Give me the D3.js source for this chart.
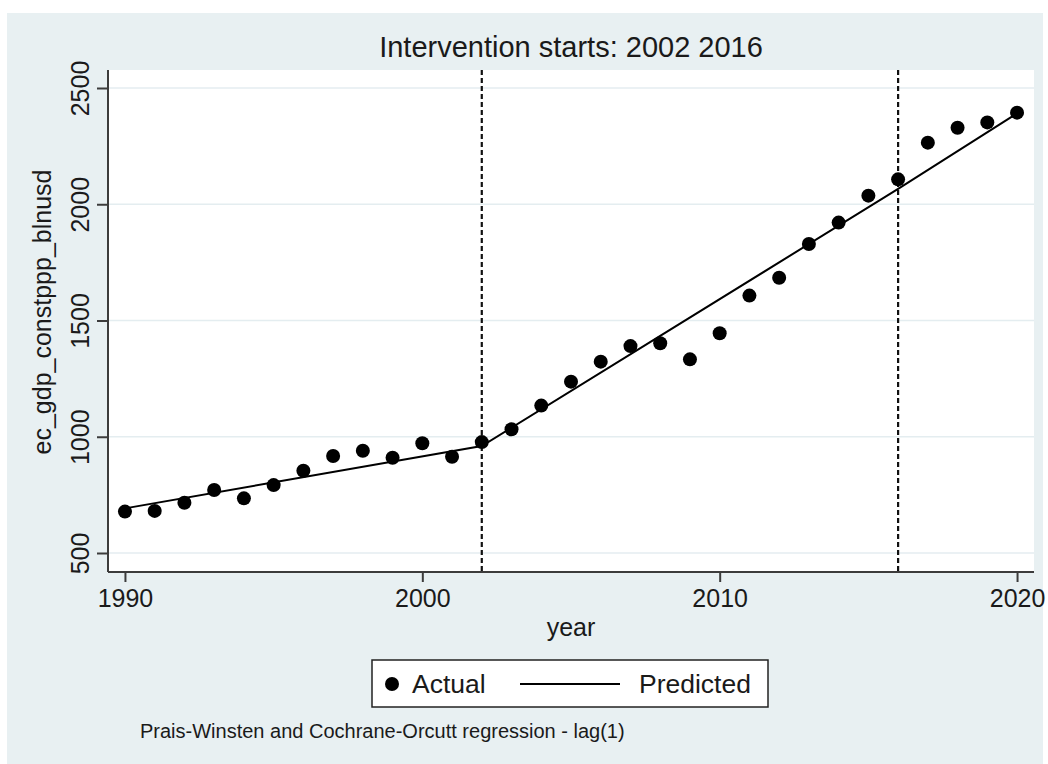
<!DOCTYPE html>
<html>
<head>
<meta charset="utf-8">
<script src="https://cdn.jsdelivr.net/npm/d3@7"></script>
<style>
  html, body { margin: 0; padding: 0; background: #ffffff; }
  svg { display: block; }
  text { font-family: "Liberation Sans", Arial, sans-serif; fill: #1a1a1a; }
</style>
</head>
<body>
<svg id="chart" width="1048" height="764"></svg>
<script>
// ---- data ----
const years = [1990,1991,1992,1993,1994,1995,1996,1997,1998,1999,2000,2001,2002,2003,2004,2005,2006,2007,2008,2009,2010,2011,2012,2013,2014,2015,2016,2017,2018,2019,2020];
const actual = [678,681,716,771,735,792,854,917,940,910,972,914,977,1032,1134,1237,1323,1390,1402,1333,1445,1607,1684,1829,1921,2037,2107,2265,2329,2352,2394];
// predicted (fitted) line read at its break points
const predYears = [1990, 2002, 2016, 2020];
const predValues = [692, 960, 2066, 2391];
const interventions = [2002, 2016];
const xTicks = [1990, 2000, 2010, 2020];
const yTicks = [500, 1000, 1500, 2000, 2500];
const titleText = "Intervention starts: 2002 2016";
const xTitle = "year";
const yTitle = "ec_gdp_constppp_blnusd";
const legendLabels = ["Actual", "Predicted"];
const noteText = "Prais-Winsten and Cochrane-Orcutt regression - lag(1)";

// ---- layout ----
const W = 1048, H = 764;
const plot = { left: 108, right: 1034, top: 70, bottom: 572 };
const bgColor = "#e8f0f2";
const gridColor = "#e4edf0";
const axisColor = "#3c3c3c";

const svg = d3.select("#chart");

svg.append("rect").attr("x", 7).attr("y", 13).attr("width", 1036).attr("height", H - 13)
  .attr("fill", bgColor);

svg.append("rect").attr("x", plot.left).attr("y", plot.top)
  .attr("width", plot.right - plot.left).attr("height", plot.bottom - plot.top)
  .attr("fill", "#ffffff");

const x = d3.scaleLinear().domain([1989.43, 2020.57]).range([plot.left, plot.right]);
const y = d3.scaleLinear().domain([418.3, 2577.4]).range([plot.bottom, plot.top]);

// gridlines
svg.append("g").selectAll("line").data(yTicks).join("line")
  .attr("x1", plot.left).attr("x2", plot.right)
  .attr("y1", d => y(d)).attr("y2", d => y(d))
  .attr("stroke", gridColor).attr("stroke-width", 1.6);

// intervention lines
svg.append("g").selectAll("line").data(interventions).join("line")
  .attr("x1", d => x(d)).attr("x2", d => x(d))
  .attr("y1", plot.top).attr("y2", plot.bottom)
  .attr("stroke", "#111").attr("stroke-width", 2.2).attr("stroke-dasharray", "5,3");

// y axis
const yAxis = d3.axisLeft(y).tickValues(yTicks).tickFormat(d3.format("d")).tickSize(11).tickPadding(7).tickSizeOuter(0);
const gy = svg.append("g").attr("transform", `translate(${plot.left},0)`).call(yAxis);
gy.select(".domain").attr("d", `M0,${plot.top}V${plot.bottom}`).attr("stroke", axisColor).attr("stroke-width", 2);
gy.selectAll(".tick line").attr("stroke", axisColor).attr("stroke-width", 2);
gy.selectAll(".tick text")
  .attr("font-size", 25).attr("font-family", "Liberation Sans, Arial, sans-serif").attr("fill", "#1a1a1a")
  .attr("text-anchor", "middle").attr("dy", null).attr("x", null)
  .attr("transform", "translate(-19,0) rotate(-90)");

// x axis
const xAxis = d3.axisBottom(x).tickValues(xTicks).tickFormat(d3.format("d")).tickSize(10).tickPadding(6).tickSizeOuter(0);
const gx = svg.append("g").attr("transform", `translate(0,${plot.bottom})`).call(xAxis);
gx.select(".domain").attr("d", `M${plot.left},0H${plot.right}`).attr("stroke", axisColor).attr("stroke-width", 2);
gx.selectAll(".tick line").attr("stroke", axisColor).attr("stroke-width", 2);
gx.selectAll(".tick text")
  .attr("font-size", 25).attr("font-family", "Liberation Sans, Arial, sans-serif").attr("fill", "#1a1a1a")
  .attr("dy", null).attr("y", 35);

// predicted line
const line = d3.line().x(d => x(d[0])).y(d => y(d[1]));
svg.append("path").datum(predYears.map((yr, i) => [yr, predValues[i]]))
  .attr("d", line).attr("fill", "none").attr("stroke", "#000").attr("stroke-width", 2);

// actual points
svg.append("g").selectAll("circle").data(years.map((yr, i) => [yr, actual[i]])).join("circle")
  .attr("cx", d => x(d[0])).attr("cy", d => y(d[1])).attr("r", 7).attr("fill", "#000");

// titles
svg.append("text").attr("x", (plot.left + plot.right) / 2).attr("y", 57)
  .attr("text-anchor", "middle").attr("font-size", 29).text(titleText);
svg.append("text").attr("x", (plot.left + plot.right) / 2).attr("y", 636)
  .attr("text-anchor", "middle").attr("font-size", 25).text(xTitle);
svg.append("text").attr("transform", `translate(51,312) rotate(-90)`)
  .attr("text-anchor", "middle").attr("font-size", 25).text(yTitle);

// legend
const lg = svg.append("g");
lg.append("rect").attr("x", 372).attr("y", 660).attr("width", 396).attr("height", 47)
  .attr("fill", "#fff").attr("stroke", "#222").attr("stroke-width", 1.5);
lg.append("circle").attr("cx", 392).attr("cy", 684).attr("r", 7).attr("fill", "#000");
lg.append("text").attr("x", 412).attr("y", 693).attr("font-size", 26.5).text(legendLabels[0]);
lg.append("line").attr("x1", 520).attr("x2", 620).attr("y1", 684).attr("y2", 684)
  .attr("stroke", "#000").attr("stroke-width", 2);
lg.append("text").attr("x", 639).attr("y", 693).attr("font-size", 26.5).text(legendLabels[1]);

// note
svg.append("text").attr("x", 140).attr("y", 738).attr("font-size", 20).text(noteText);
</script>
</body>
</html>
